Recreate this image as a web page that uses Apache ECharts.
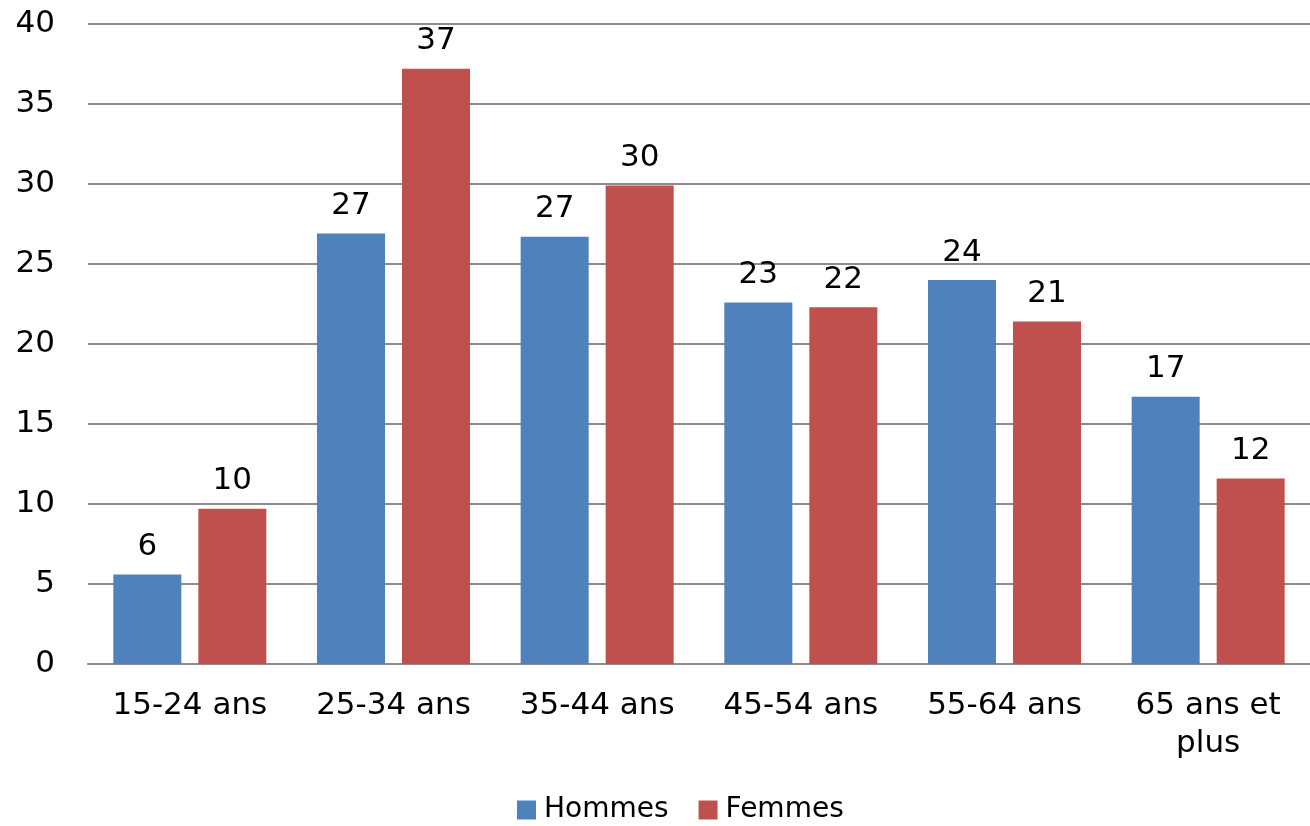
<!DOCTYPE html>
<html>
<head>
<meta charset="utf-8">
<script src="https://cdn.jsdelivr.net/npm/echarts@6/dist/echarts.min.js"></script>
<style>html,body{margin:0;padding:0;background:#fff}#c{width:1310px;height:826px}</style>
</head>
<body>
<div id="c"></div>
<script>
const categories = ['15-24 ans', '25-34 ans', '35-44 ans', '45-54 ans', '55-64 ans', '65 ans et\nplus'];
const hommes = [5.6, 26.9, 26.7, 22.6, 24.0, 16.7];
const femmes = [9.7, 37.2, 29.9, 22.3, 21.4, 11.6];
const yTicks = { min: 0, max: 40, interval: 5 };

const FONT = '"DejaVu Sans", sans-serif';
const chart = echarts.init(document.getElementById('c'));
const lbl = {
  show: true, position: 'top', distance: 12,
  color: '#000', fontSize: 31, fontFamily: FONT,
  formatter: p => Math.round(p.value)
};
chart.setOption({
  animation: false,
  textStyle: { fontFamily: FONT },
  grid: { left: 88, right: 0, top: 24, bottom: 162 },
  legend: {
    bottom: -3, left: 512,
    itemWidth: 19, itemHeight: 19, itemGap: 30,
    icon: 'rect',
    textStyle: { fontSize: 28, color: '#000', fontFamily: FONT, padding: [0, 0, 0, 3] },
    data: ['Hommes', 'Femmes']
  },
  xAxis: {
    type: 'category', data: categories,
    axisLine: { lineStyle: { color: '#8c8c8c', width: 2 } },
    axisTick: { show: false },
    axisLabel: { color: '#000', fontSize: 31, fontFamily: FONT, margin: 23, lineHeight: 38, interval: 0 }
  },
  yAxis: {
    type: 'value', min: yTicks.min, max: yTicks.max, interval: yTicks.interval,
    axisLine: { show: false }, axisTick: { show: false },
    splitLine: { lineStyle: { color: '#8c8c8c', width: 2 } },
    axisLabel: { color: '#000', fontSize: 31, fontFamily: FONT, margin: 33 }
  },
  series: [
    { name: 'Hommes', type: 'bar', data: hommes, barWidth: 68, barGap: '25%',
      itemStyle: { color: '#4F81BD' }, label: lbl },
    { name: 'Femmes', type: 'bar', data: femmes, barWidth: 68,
      itemStyle: { color: '#C0504D' }, label: lbl }
  ]
});
</script>
</body>
</html>
